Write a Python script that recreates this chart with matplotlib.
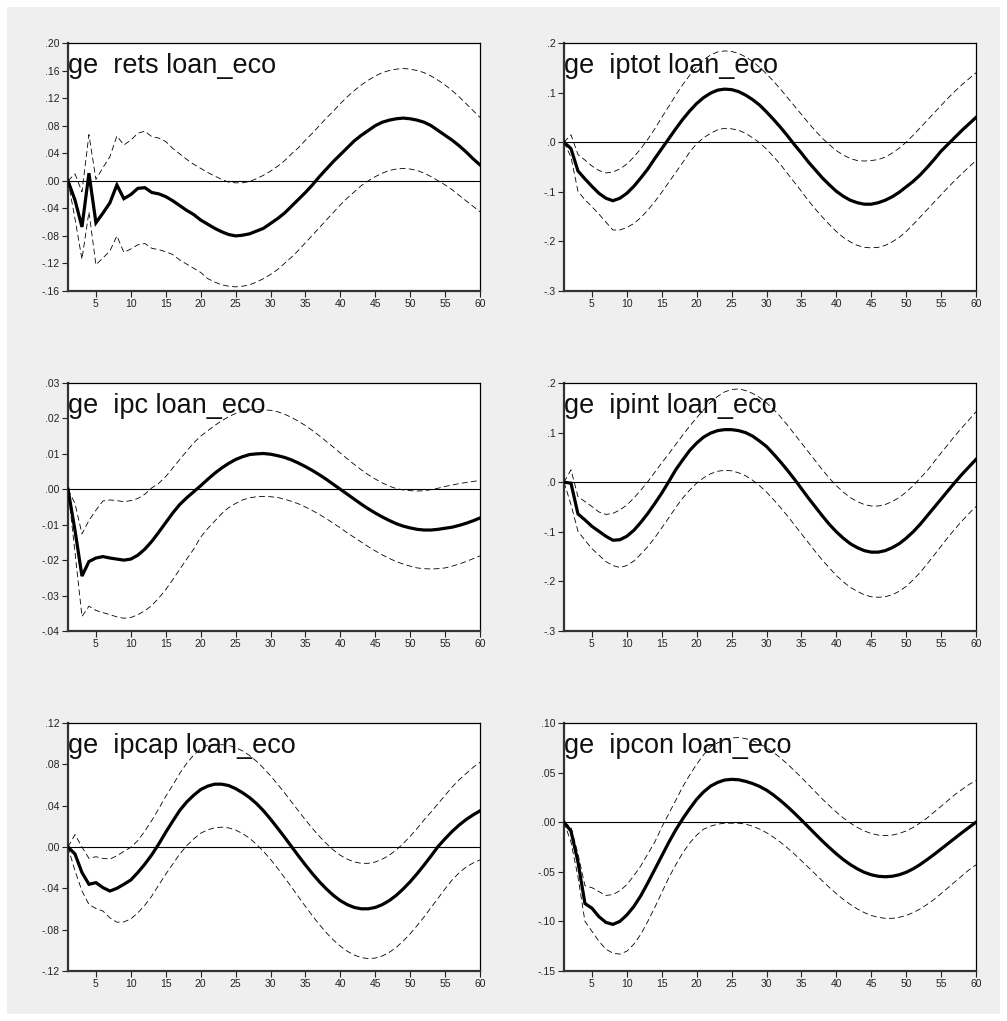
import numpy as np
import matplotlib
matplotlib.use("Agg")
import matplotlib.pyplot as plt
from matplotlib.patches import Rectangle
from matplotlib.ticker import FuncFormatter

plt.rcParams['font.family'] = ['Liberation Sans', 'DejaVu Sans']

periods = list(range(1, 61))

# ---- ge rets loan_eco
rets_mid = [0, -0.028, -0.067, 0.011, -0.061, -0.047, -0.032, -0.006, -0.026, -0.020,
            -0.011, -0.010, -0.017, -0.019, -0.023, -0.029, -0.036, -0.043, -0.049, -0.057,
            -0.063, -0.069, -0.074, -0.078, -0.080, -0.079, -0.077, -0.073, -0.069, -0.062,
            -0.055, -0.047, -0.037, -0.027, -0.017, -0.006, 0.006, 0.017, 0.028, 0.038,
            0.048, 0.058, 0.066, 0.073, 0.080, 0.085, 0.088, 0.090, 0.091, 0.090,
            0.088, 0.085, 0.080, 0.073, 0.066, 0.059, 0.051, 0.042, 0.032, 0.023]
rets_hi = [0, 0.010, -0.016, 0.067, 0.002, 0.019, 0.035, 0.065, 0.052, 0.059,
           0.069, 0.072, 0.064, 0.062, 0.057, 0.047, 0.039, 0.031, 0.024, 0.018,
           0.012, 0.007, 0.002, -0.002, -0.003, -0.003, -0.001, 0.003, 0.008, 0.014,
           0.021, 0.029, 0.039, 0.048, 0.059, 0.069, 0.080, 0.091, 0.101, 0.112,
           0.122, 0.131, 0.139, 0.146, 0.152, 0.157, 0.160, 0.162, 0.163, 0.162,
           0.160, 0.157, 0.152, 0.146, 0.139, 0.131, 0.122, 0.112, 0.102, 0.092]
rets_lo = [0, -0.055, -0.114, -0.045, -0.122, -0.112, -0.102, -0.080, -0.104, -0.099,
           -0.093, -0.091, -0.098, -0.100, -0.103, -0.107, -0.115, -0.121, -0.127, -0.133,
           -0.142, -0.147, -0.151, -0.153, -0.154, -0.153, -0.151, -0.147, -0.142, -0.136,
           -0.129, -0.120, -0.111, -0.101, -0.090, -0.079, -0.068, -0.057, -0.046, -0.035,
           -0.025, -0.016, -0.007, 0.000, 0.006, 0.011, 0.015, 0.017, 0.018, 0.017,
           0.015, 0.011, 0.006, 0.000, -0.006, -0.013, -0.021, -0.029, -0.037, -0.045]

# ---- ge iptot loan_eco
iptot_mid = [0, -0.013, -0.058, -0.074, -0.089, -0.103, -0.113, -0.118, -0.113, -0.103,
             -0.089, -0.072, -0.054, -0.033, -0.013, 0.007, 0.027, 0.046, 0.063, 0.078,
             0.090, 0.099, 0.105, 0.107, 0.106, 0.102, 0.095, 0.086, 0.075, 0.061,
             0.046, 0.030, 0.013, -0.005, -0.022, -0.040, -0.056, -0.072, -0.086, -0.099,
             -0.109, -0.117, -0.122, -0.125, -0.125, -0.122, -0.117, -0.110, -0.101, -0.090,
             -0.079, -0.066, -0.051, -0.035, -0.018, -0.004, 0.010, 0.024, 0.037, 0.050]
iptot_hi = [0, 0.015, -0.025, -0.036, -0.048, -0.057, -0.062, -0.060, -0.054, -0.044,
            -0.030, -0.013, 0.006, 0.027, 0.050, 0.072, 0.095, 0.116, 0.135, 0.152,
            0.166, 0.176, 0.182, 0.184, 0.183, 0.179, 0.172, 0.163, 0.151, 0.138,
            0.123, 0.107, 0.090, 0.073, 0.056, 0.039, 0.023, 0.008, -0.005, -0.017,
            -0.026, -0.033, -0.037, -0.038, -0.037, -0.035, -0.030, -0.022, -0.012, 0.000,
            0.014, 0.029, 0.044, 0.059, 0.074, 0.089, 0.103, 0.116, 0.128, 0.140]
iptot_lo = [0, -0.030, -0.099, -0.116, -0.130, -0.145, -0.161, -0.177, -0.177, -0.172,
            -0.164, -0.152, -0.137, -0.120, -0.101, -0.081, -0.061, -0.041, -0.020, -0.003,
            0.009, 0.018, 0.025, 0.028, 0.027, 0.024, 0.018, 0.009, -0.001, -0.014,
            -0.029, -0.045, -0.063, -0.081, -0.099, -0.118, -0.135, -0.151, -0.166, -0.180,
            -0.192, -0.201, -0.208, -0.212, -0.213, -0.212, -0.208, -0.201, -0.192, -0.180,
            -0.166, -0.151, -0.136, -0.121, -0.106, -0.091, -0.077, -0.063, -0.050, -0.037]

# ---- ge ipc loan_eco
ipc_mid = [0, -0.0116, -0.0245, -0.0204, -0.0194, -0.0190, -0.0194, -0.0197, -0.0200, -0.0197,
           -0.0186, -0.0169, -0.0147, -0.0121, -0.0094, -0.0067, -0.0043, -0.0024, -0.0007, 0.0010,
           0.0028, 0.0045, 0.0060, 0.0073, 0.0084, 0.0092, 0.0098, 0.0100, 0.0101, 0.0099,
           0.0095, 0.0090, 0.0083, 0.0074, 0.0064, 0.0053, 0.0041, 0.0028, 0.0014, 0.0000,
           -0.0014, -0.0028, -0.0042, -0.0055, -0.0067, -0.0078, -0.0088, -0.0097, -0.0104, -0.0109,
           -0.0113, -0.0115, -0.0115, -0.0113, -0.0110, -0.0107, -0.0102, -0.0096, -0.0089, -0.0081]
ipc_hi = [0, -0.0040, -0.0126, -0.0088, -0.0059, -0.0033, -0.0030, -0.0032, -0.0035, -0.0032,
          -0.0026, -0.0014, 0.0004, 0.0017, 0.0036, 0.0060, 0.0084, 0.0108, 0.0131, 0.0150,
          0.0165, 0.0180, 0.0193, 0.0205, 0.0214, 0.0220, 0.0224, 0.0225, 0.0224, 0.0223,
          0.0219, 0.0212, 0.0203, 0.0192, 0.0180, 0.0166, 0.0151, 0.0135, 0.0119, 0.0102,
          0.0086, 0.0070, 0.0055, 0.0041, 0.0029, 0.0018, 0.0009, 0.0002, -0.0002, -0.0004,
          -0.0005, -0.0004, -0.0001, 0.0003, 0.0008, 0.0012, 0.0016, 0.0019, 0.0022, 0.0025]
ipc_lo = [0, -0.0178, -0.0359, -0.0330, -0.0342, -0.0348, -0.0354, -0.0360, -0.0364, -0.0362,
          -0.0354, -0.0343, -0.0328, -0.0307, -0.0283, -0.0255, -0.0226, -0.0197, -0.0169, -0.0135,
          -0.0111, -0.0090, -0.0069, -0.0052, -0.0040, -0.0030, -0.0024, -0.0021, -0.0020, -0.0021,
          -0.0023, -0.0028, -0.0034, -0.0041, -0.0050, -0.0060, -0.0071, -0.0083, -0.0096, -0.0109,
          -0.0123, -0.0136, -0.0149, -0.0162, -0.0174, -0.0185, -0.0195, -0.0204, -0.0211, -0.0217,
          -0.0222, -0.0224, -0.0225, -0.0224, -0.0222, -0.0217, -0.0211, -0.0204, -0.0196, -0.0188]

# ---- ge ipint loan_eco
ipint_mid = [0, -0.002, -0.064, -0.076, -0.089, -0.099, -0.109, -0.117, -0.116, -0.109,
             -0.097, -0.081, -0.063, -0.043, -0.022, 0.001, 0.025, 0.045, 0.064, 0.079,
             0.091, 0.099, 0.104, 0.106, 0.106, 0.104, 0.100, 0.093, 0.083, 0.072,
             0.057, 0.041, 0.024, 0.006, -0.013, -0.032, -0.050, -0.068, -0.085, -0.100,
             -0.113, -0.124, -0.132, -0.138, -0.141, -0.141, -0.138, -0.132, -0.124, -0.113,
             -0.100, -0.085, -0.068, -0.051, -0.034, -0.017, 0.000, 0.016, 0.031, 0.046]
ipint_hi = [0, 0.025, -0.029, -0.039, -0.049, -0.060, -0.065, -0.063, -0.056, -0.046,
            -0.032, -0.016, 0.001, 0.020, 0.039, 0.057, 0.076, 0.095, 0.113, 0.130,
            0.146, 0.161, 0.173, 0.182, 0.187, 0.188, 0.185, 0.179, 0.171, 0.160,
            0.147, 0.132, 0.115, 0.097, 0.079, 0.061, 0.043, 0.025, 0.008, -0.007,
            -0.020, -0.031, -0.039, -0.045, -0.048, -0.048, -0.045, -0.039, -0.031, -0.020,
            -0.007, 0.008, 0.023, 0.041, 0.059, 0.076, 0.094, 0.110, 0.126, 0.142]
ipint_lo = [0, -0.045, -0.099, -0.117, -0.134, -0.147, -0.160, -0.168, -0.172, -0.168,
            -0.159, -0.145, -0.130, -0.112, -0.092, -0.072, -0.051, -0.032, -0.016, -0.002,
            0.009, 0.017, 0.022, 0.024, 0.023, 0.019, 0.013, 0.004, -0.007, -0.020,
            -0.035, -0.051, -0.068, -0.086, -0.104, -0.122, -0.140, -0.157, -0.173, -0.188,
            -0.201, -0.212, -0.220, -0.227, -0.231, -0.232, -0.231, -0.227, -0.220, -0.210,
            -0.197, -0.182, -0.165, -0.147, -0.129, -0.111, -0.094, -0.078, -0.063, -0.049]

# ---- ge ipcap loan_eco
ipcap_mid = [0, -0.0068, -0.0247, -0.0361, -0.0345, -0.0393, -0.0426, -0.0400, -0.0361, -0.0319,
             -0.0247, -0.0166, -0.0075, 0.0029, 0.0143, 0.0250, 0.0354, 0.0436, 0.0501, 0.0556,
             0.0589, 0.0608, 0.0608, 0.0595, 0.0565, 0.0525, 0.0478, 0.0420, 0.0350, 0.0270,
             0.0184, 0.0096, 0.0005, -0.0086, -0.0174, -0.0258, -0.0336, -0.0406, -0.0468, -0.0519,
             -0.0558, -0.0585, -0.0598, -0.0598, -0.0585, -0.0558, -0.0519, -0.0468, -0.0406, -0.0336,
             -0.0258, -0.0174, -0.0086, 0.0005, 0.0080, 0.0150, 0.0212, 0.0265, 0.0310, 0.0350]
ipcap_hi = [0, 0.012, 0.000, -0.011, -0.0094, -0.011, -0.0117, -0.0085, -0.0042, -0.0003,
            0.0062, 0.0153, 0.0257, 0.0371, 0.0491, 0.0598, 0.0712, 0.0810, 0.0890, 0.0950,
            0.0985, 0.0995, 0.0990, 0.0983, 0.0963, 0.0930, 0.0885, 0.0830, 0.0763, 0.0689,
            0.0609, 0.0525, 0.0437, 0.0349, 0.0263, 0.0180, 0.0103, 0.0033, -0.0029, -0.0080,
            -0.0118, -0.0145, -0.0158, -0.0158, -0.0145, -0.0118, -0.0080, -0.0029, 0.0033, 0.0103,
            0.0180, 0.0263, 0.0340, 0.0420, 0.0500, 0.0580, 0.0650, 0.0710, 0.0770, 0.0820]
ipcap_lo = [0, -0.023, -0.0426, -0.0556, -0.0595, -0.062, -0.0686, -0.0728, -0.0725, -0.0696,
            -0.0637, -0.0563, -0.0475, -0.0367, -0.0263, -0.0166, -0.0068, 0.0013, 0.0078, 0.0133,
            0.0166, 0.0185, 0.0192, 0.0185, 0.0164, 0.0130, 0.0085, 0.0025, -0.0043, -0.0120,
            -0.0205, -0.0295, -0.0387, -0.0482, -0.0575, -0.0666, -0.0751, -0.0830, -0.0900, -0.0960,
            -0.1009, -0.1046, -0.1070, -0.1080, -0.1075, -0.1055, -0.1020, -0.0972, -0.0910, -0.0840,
            -0.0760, -0.0676, -0.0585, -0.0495, -0.0405, -0.0320, -0.0250, -0.0195, -0.0155, -0.0125]

# ---- ge ipcon loan_eco
ipcon_mid = [0, -0.009, -0.040, -0.082, -0.0867, -0.0952, -0.101, -0.103, -0.100, -0.0935,
             -0.085, -0.0741, -0.0612, -0.0476, -0.034, -0.0204, -0.0078, 0.0034, 0.0136, 0.0231,
             0.0306, 0.0364, 0.0401, 0.0425, 0.0432, 0.0428, 0.0412, 0.0390, 0.0361, 0.0323,
             0.0274, 0.0218, 0.0157, 0.0091, 0.0022, -0.0049, -0.0120, -0.0190, -0.0256, -0.0319,
             -0.0377, -0.0427, -0.0470, -0.0505, -0.0530, -0.0545, -0.0550, -0.0545, -0.0530, -0.0505,
             -0.0470, -0.0427, -0.0377, -0.0325, -0.0270, -0.0215, -0.0160, -0.0105, -0.0052, 0.0000]
ipcon_hi = [0, -0.005, -0.032, -0.064, -0.066, -0.070, -0.0738, -0.073, -0.069, -0.063,
            -0.054, -0.044, -0.032, -0.020, -0.005, 0.0085, 0.022, 0.0357, 0.0476, 0.0585,
            0.068, 0.0759, 0.080, 0.083, 0.085, 0.0853, 0.0843, 0.0822, 0.0792, 0.0752,
            0.0704, 0.0648, 0.0586, 0.0519, 0.0450, 0.0378, 0.0306, 0.0234, 0.0166, 0.0102,
            0.0043, -0.0008, -0.0053, -0.0088, -0.0114, -0.0130, -0.0135, -0.0130, -0.0114, -0.0088,
            -0.0053, -0.0008, 0.0043, 0.0102, 0.0160, 0.0220, 0.0280, 0.0330, 0.0380, 0.0420]
ipcon_lo = [0, -0.020, -0.055, -0.100, -0.110, -0.120, -0.128, -0.132, -0.133, -0.130,
            -0.123, -0.113, -0.100, -0.086, -0.071, -0.056, -0.043, -0.031, -0.021, -0.013,
            -0.007, -0.004, -0.002, -0.001, -0.001, -0.001, -0.0019, -0.0040, -0.0069, -0.0106,
            -0.0151, -0.0202, -0.0260, -0.0322, -0.0388, -0.0456, -0.0524, -0.0592, -0.0658, -0.0720,
            -0.0778, -0.0829, -0.0874, -0.0911, -0.0940, -0.0959, -0.0969, -0.0969, -0.0959, -0.0940,
            -0.0911, -0.0874, -0.0829, -0.0778, -0.0720, -0.0660, -0.0600, -0.0540, -0.0480, -0.0430]

titles = ['ge  rets loan_eco', 'ge  iptot loan_eco', 'ge  ipc loan_eco',
          'ge  ipint loan_eco', 'ge  ipcap loan_eco', 'ge  ipcon loan_eco']
series = [(rets_mid, rets_hi, rets_lo), (iptot_mid, iptot_hi, iptot_lo),
          (ipc_mid, ipc_hi, ipc_lo), (ipint_mid, ipint_hi, ipint_lo),
          (ipcap_mid, ipcap_hi, ipcap_lo), (ipcon_mid, ipcon_hi, ipcon_lo)]
yticks = [[-0.16, -0.12, -0.08, -0.04, 0.0, 0.04, 0.08, 0.12, 0.16, 0.20],
          [-0.3, -0.2, -0.1, 0.0, 0.1, 0.2],
          [-0.04, -0.03, -0.02, -0.01, 0.0, 0.01, 0.02, 0.03],
          [-0.3, -0.2, -0.1, 0.0, 0.1, 0.2],
          [-0.12, -0.08, -0.04, 0.0, 0.04, 0.08, 0.12],
          [-0.15, -0.10, -0.05, 0.0, 0.05, 0.10]]
ydecimals = [2, 1, 2, 1, 2, 2]
xticks = [5, 10, 15, 20, 25, 30, 35, 40, 45, 50, 55, 60]


def fmt(nd):
    def f(v, pos):
        s = f"{v:.{nd}f}"
        if s.startswith('-0'):
            return '-' + s[2:]
        if s.startswith('0'):
            return s[1:]
        return s
    return FuncFormatter(f)


W, H = 1007, 1021
fig = plt.figure(figsize=(W / 100, H / 100), dpi=100, facecolor='white')
# grey panel behind the graphs
bg = fig.add_axes([0, 0, 1, 1], zorder=-10)
bg.axis('off')
bg.set_xlim(0, W)
bg.set_ylim(H, 0)
bg.add_patch(Rectangle((7, 7), 993, 1007, facecolor='#efefef', edgecolor='none'))

lefts = [68, 564]
tops = [43, 383, 723]
for i in range(6):
    r, c = divmod(i, 2)
    ax = fig.add_axes([lefts[c] / W, 1 - (tops[r] + 248) / H, 412 / W, 248 / H])
    mid, hi, lo = series[i]
    ax.axhline(0, color='black', lw=0.8, zorder=1)
    ax.plot(periods, hi, color='black', lw=0.6, dashes=(7, 4), zorder=2)
    ax.plot(periods, lo, color='black', lw=0.6, dashes=(7, 4), zorder=2)
    ax.plot(periods, mid, color='black', lw=2.3, zorder=3, solid_joinstyle='miter')
    ax.set_xlim(1, 60)
    ax.set_ylim(yticks[i][0], yticks[i][-1])
    ax.set_xticks(xticks)
    ax.set_yticks(yticks[i])
    ax.yaxis.set_major_formatter(fmt(ydecimals[i]))
    ax.tick_params(direction='out', length=4, width=0.8, labelsize=7.5, pad=2, colors='#222222')
    for side in ['left', 'bottom']:
        ax.spines[side].set_linewidth(1.6)
        ax.spines[side].set_color('#333333')
    for side in ['top', 'right']:
        ax.spines[side].set_linewidth(0.9)
        ax.spines[side].set_color('black')
    ax.text(0, 1 - 30 / 248, titles[i], transform=ax.transAxes, fontsize=19.5,
            ha='left', va='baseline', color='#111111')

fig.savefig('out.png', dpi=100, facecolor=fig.get_facecolor())
